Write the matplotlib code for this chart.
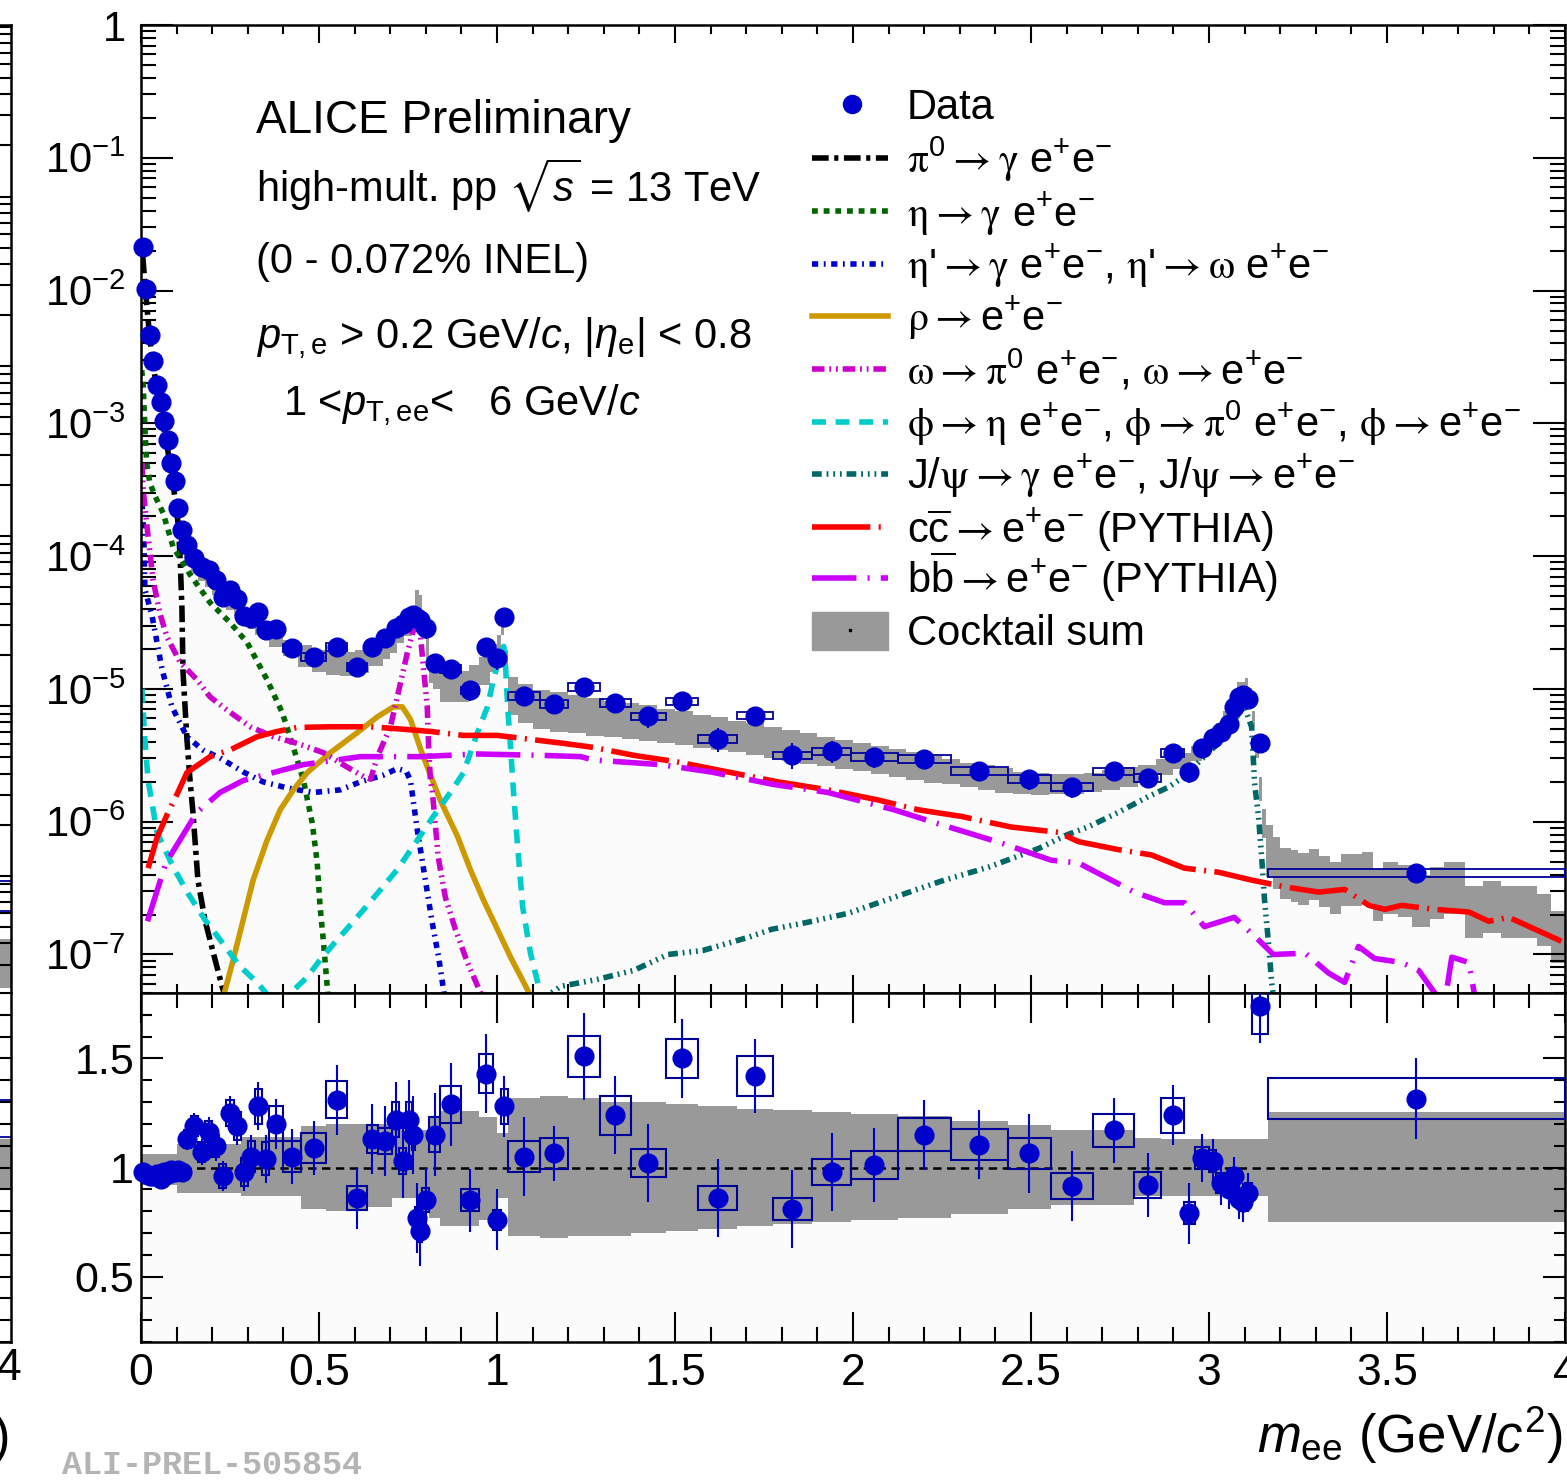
import numpy as np
import matplotlib
matplotlib.use("Agg")
import matplotlib.pyplot as plt
from matplotlib.patches import Rectangle
from matplotlib.lines import Line2D
from matplotlib.ticker import (FixedLocator, FixedFormatter, MultipleLocator,
                               LogLocator, NullFormatter, FuncFormatter)

plt.rcParams["font.family"] = ["Liberation Sans", "DejaVu Sans"]
plt.rcParams["mathtext.fontset"] = "custom"
plt.rcParams["mathtext.rm"] = "Liberation Sans"
plt.rcParams["mathtext.sf"] = "Liberation Sans"
plt.rcParams["mathtext.it"] = "Liberation Sans:italic"
plt.rcParams["mathtext.bf"] = "Liberation Sans:bold"
plt.rcParams["mathtext.cal"] = "STIXGeneral"   # serif Greek and arrows, like ROOT's Symbol font
plt.rcParams["mathtext.fallback"] = "stix"
plt.rcParams["lines.scale_dashes"] = False
plt.rcParams["axes.linewidth"] = 1.8

# ---------------- data ----------------
# data bins (contiguous), points sit at bin centres
data_edges = [0.00, 0.01, 0.02, 0.03, 0.04, 0.05, 0.06, 0.07, 0.08, 0.09, 0.10, 0.11, 0.12,
              0.14, 0.16, 0.18, 0.20, 0.22, 0.24, 0.26, 0.28, 0.30, 0.32, 0.34, 0.36,
              0.40, 0.45, 0.52, 0.58, 0.635, 0.665, 0.705, 0.725, 0.745, 0.76,
              0.77, 0.78, 0.79, 0.81, 0.84, 0.90, 0.95, 0.99, 1.01, 1.03,
              1.12, 1.20, 1.29, 1.375, 1.475, 1.565, 1.675, 1.775, 1.885, 1.995,
              2.125, 2.275, 2.435, 2.555, 2.675, 2.79, 2.865, 2.93, 2.96, 3.00,
              3.02, 3.05, 3.06, 3.08, 3.09, 3.10, 3.12, 3.165, 4.0]
data_y = [2.13e-2, 1.03e-2, 4.63e-3, 2.95e-3, 1.95e-3, 1.45e-3, 1.04e-3, 7.5e-4, 5.0e-4, 3.7e-4, 2.3e-4, 1.57e-4,
          1.21e-4, 9.7e-5, 8.3e-5, 7.9e-5, 6.6e-5, 4.95e-5, 5.6e-5, 4.75e-5, 3.55e-5, 3.4e-5, 3.8e-5, 2.8e-5,
          2.83e-5, 2.04e-5, 1.74e-5, 2.07e-5,
          1.47e-5, 2.07e-5, 2.4e-5, 2.9e-5, 3.1e-5, 3.5e-5, 3.6e-5, 3.4e-5, 3.3e-5, 2.9e-5,
          1.58e-5, 1.41e-5, 9.8e-6, 2.07e-5, 1.7e-5, 3.5e-5,
          8.9e-6, 7.7e-6, 1.035e-5, 7.85e-6, 6.2e-6, 8.1e-6, 4.2e-6, 6.3e-6, 3.18e-6, 3.4e-6,
          3.07e-6, 2.97e-6, 2.41e-6, 2.1e-6,
          1.83e-6, 2.4e-6, 2.14e-6, 3.3e-6, 2.37e-6, 3.6e-6,
          4.27e-6, 4.7e-6, 5.4e-6, 7.3e-6, 8.7e-6, 9.0e-6, 8.4e-6,
          3.9e-6, 4.1e-7]
ratio = [0.98, 0.97, 0.96, 0.96, 0.97, 0.945, 0.98, 0.97, 0.99, 0.98, 0.99, 0.98,
         1.13, 1.19, 1.07, 1.165, 1.10, 0.96, 1.25, 1.19, 0.98, 1.05, 1.28, 1.04,
         1.20, 1.05, 1.09, 1.31,
         0.86, 1.13, 1.12, 1.22, 1.03, 1.22, 1.15, 0.77, 0.71, 0.85,
         1.15, 1.29, 0.85, 1.43, 0.76, 1.28,
         1.05, 1.065, 1.51, 1.24, 1.02, 1.50, 0.86, 1.42, 0.81, 0.98, 1.01, 1.15, 1.105, 1.065,
         0.915, 1.17, 0.92, 1.24, 0.79, 1.045,
         1.03, 0.93, 0.90, 0.96, 0.855, 0.84, 0.885,
         1.74, 1.315]
ratio_stat = [0.02, 0.02, 0.025, 0.025, 0.03, 0.03, 0.03, 0.035, 0.035, 0.04, 0.04, 0.045,
              0.05, 0.06, 0.06, 0.065, 0.07, 0.07, 0.08, 0.085, 0.09, 0.10, 0.11, 0.11,
              0.115, 0.125, 0.125, 0.16,
              0.14, 0.16, 0.16, 0.17, 0.17, 0.18, 0.18, 0.16, 0.16, 0.15,
              0.19, 0.19, 0.145, 0.18, 0.14, 0.14,
              0.18, 0.125, 0.2, 0.18, 0.18, 0.18, 0.18, 0.17, 0.18, 0.18, 0.17, 0.16, 0.16, 0.18,
              0.16, 0.15, 0.145, 0.137, 0.14, 0.11,
              0.10, 0.10, 0.09, 0.09, 0.09, 0.09, 0.09,
              0.17, 0.185]
ratio_syst = [0.025, 0.025, 0.025, 0.025, 0.025, 0.025, 0.025, 0.025, 0.025, 0.025, 0.025, 0.025,
              0.04, 0.045, 0.045, 0.05, 0.05, 0.055, 0.06, 0.065, 0.065, 0.07, 0.08, 0.075,
              0.08, 0.07, 0.07, 0.085,
              0.055, 0.065, 0.06, 0.08, 0.06, 0.08, 0.07, 0.05, 0.05, 0.055,
              0.08, 0.085, 0.05, 0.09, 0.045, 0.08,
              0.07, 0.07, 0.095, 0.09, 0.065, 0.09, 0.055, 0.09, 0.05, 0.06, 0.065, 0.075, 0.07, 0.07,
              0.06, 0.075, 0.06, 0.08, 0.05, 0.05,
              0.05, 0.045, 0.04, 0.04, 0.04, 0.04, 0.045,
              0.13, 0.094]

# cocktail sum (fine histogram) and its relative uncertainty
cocktail_edges = [0.00, 0.01, 0.02, 0.03, 0.04, 0.05, 0.06, 0.07, 0.08, 0.09, 0.10, 0.11, 0.12,
                  0.14, 0.16, 0.18, 0.20, 0.22, 0.24, 0.26, 0.28, 0.30, 0.32, 0.34, 0.36,
                  0.40, 0.44, 0.48, 0.52, 0.56, 0.60, 0.64, 0.68,
                  0.70, 0.72, 0.74, 0.76,
                  0.77, 0.78, 0.79, 0.80, 0.81, 0.82,
                  0.84, 0.88, 0.92, 0.95, 0.98, 1.00,
                  1.01, 1.02, 1.03, 1.06,
                  1.10, 1.15, 1.20, 1.25, 1.30, 1.35, 1.40, 1.45, 1.50, 1.55, 1.60, 1.65, 1.70,
                  1.75, 1.80, 1.85, 1.90, 1.95, 2.00, 2.05, 2.10, 2.15, 2.20, 2.25, 2.30, 2.35,
                  2.40, 2.45, 2.50, 2.55, 2.60, 2.65, 2.70, 2.75, 2.80, 2.85, 2.90, 2.95,
                  2.98, 3.00, 3.02, 3.04, 3.06, 3.08, 3.10,
                  3.11, 3.12, 3.13, 3.14, 3.15, 3.16,
                  3.18, 3.20, 3.23, 3.25, 3.28, 3.31, 3.34, 3.37, 3.40, 3.43, 3.46, 3.49,
                  3.53, 3.57, 3.62, 3.66, 3.72, 3.77, 3.82, 3.87, 3.92, 3.96, 4.00]
cocktail_sum = [2.0e-2, 9.5e-3, 4.7e-3, 3.0e-3, 2.0e-3, 1.45e-3, 1.05e-3, 7.5e-4, 5.1e-4, 3.6e-4, 2.35e-4, 1.55e-4,
                1.1e-4, 8.4e-5, 7.4e-5, 6.6e-5, 5.8e-5, 5.1e-5, 4.5e-5, 4.0e-5, 3.6e-5, 3.25e-5, 2.95e-5, 2.7e-5,
                2.4e-5, 2.05e-5, 1.8e-5, 1.65e-5, 1.58e-5, 1.57e-5, 1.65e-5, 1.85e-5,
                2.1e-5, 2.35e-5, 2.65e-5, 3.0e-5,
                3.6e-5, 4.8e-5, 4.4e-5, 3.2e-5, 2.0e-5, 1.45e-5,
                1.3e-5, 1.08e-5, 1.08e-5, 1.2e-5, 1.4e-5, 1.75e-5,
                2.2e-5, 3.0e-5, 1.7e-5, 9.3e-6,
                8.2e-6, 7.4e-6, 7.1e-6, 6.8e-6, 6.5e-6, 6.2e-6, 6.0e-6, 5.8e-6, 5.5e-6, 5.3e-6, 5.0e-6, 4.8e-6,
                4.55e-6, 4.35e-6, 4.1e-6, 3.9e-6, 3.7e-6, 3.5e-6, 3.3e-6, 3.15e-6, 3.0e-6, 2.85e-6, 2.7e-6,
                2.55e-6, 2.45e-6, 2.3e-6, 2.2e-6, 2.1e-6, 2.0e-6, 1.95e-6, 1.95e-6, 1.95e-6, 2.0e-6, 2.1e-6,
                2.2e-6, 2.35e-6, 2.6e-6, 2.9e-6,
                3.3e-6, 3.7e-6, 4.1e-6, 4.9e-6, 6.0e-6, 7.6e-6, 1.0e-5,
                1.07e-5, 9.0e-6, 6.0e-6, 3.5e-6, 1.8e-6, 1.0e-6,
                6.6e-7, 5.4e-7, 4.5e-7, 4.3e-7, 4.1e-7, 4.4e-7, 3.9e-7, 3.5e-7, 4.0e-7, 4.0e-7, 4.2e-7, 3.1e-7,
                3.5e-7, 3.3e-7, 2.8e-7, 3.2e-7, 3.5e-7, 2.3e-7, 2.5e-7, 2.3e-7, 2.3e-7, 2.0e-7, 1.5e-7]
cocktail_err = ([0.07] * 10 + [0.12] * 10 + [0.135] * 6 + [0.19] * 2 + [0.2] * 6 + [0.16] * 6
                + [0.23] * 3 + [0.265] * 3 + [0.235] * 2 + [0.15] * 3
                + [0.32, 0.32, 0.32, 0.33, 0.32, 0.32, 0.30, 0.30, 0.30, 0.29, 0.29, 0.28, 0.28,
                   0.27, 0.27, 0.26, 0.26, 0.26, 0.25, 0.25, 0.24, 0.24, 0.24, 0.23, 0.23, 0.22,
                   0.21, 0.21, 0.21, 0.19, 0.19, 0.17, 0.17, 0.17, 0.17, 0.17]
                + [0.135] * 14 + [0.2, 0.25] + [0.42] * 23)

# cocktail uncertainty band in the ratio panel
ratio_band_edges = [0.0, 0.10, 0.28, 0.45, 0.52, 0.635, 0.705, 0.81, 0.84, 0.95, 1.0, 1.03, 1.12,
                    1.20, 1.29, 1.375, 1.475, 1.565, 1.675, 1.775, 1.885, 1.995, 2.125, 2.275,
                    2.435, 2.555, 2.79, 2.865, 3.165, 4.0]
ratio_band_lo = [0.92, 0.885, 0.87, 0.81, 0.80, 0.82, 0.86, 0.77, 0.73, 0.76, 0.86, 0.685, 0.675,
                 0.685, 0.685, 0.70, 0.71, 0.72, 0.73, 0.74, 0.75, 0.76, 0.77, 0.785, 0.81, 0.83,
                 0.87, 0.87, 0.75]
ratio_band_hi = [1.06, 1.11, 1.14, 1.19, 1.20, 1.20, 1.17, 1.23, 1.26, 1.23, 1.16, 1.32, 1.33,
                 1.32, 1.30, 1.30, 1.29, 1.28, 1.27, 1.265, 1.255, 1.245, 1.235, 1.215, 1.195,
                 1.17, 1.135, 1.13, 1.255]

# cocktail components
pi0_x = [0.005, 0.015, 0.025, 0.035, 0.045, 0.055, 0.065, 0.075, 0.085, 0.095, 0.105, 0.110,
         0.115, 0.118, 0.129, 0.138, 0.146, 0.160, 0.180, 0.203, 0.228, 0.24]
pi0_y = [1.8e-2, 8.5e-3, 4.3e-3, 2.7e-3, 1.75e-3, 1.25e-3, 8.8e-4, 6.3e-4, 4.3e-4, 2.8e-4, 1.7e-4,
         9.5e-5, 4.0e-5, 1.35e-5, 4.2e-6, 2.0e-6, 1.17e-6, 3.6e-7, 1.8e-7, 1.03e-7, 5.7e-8, 4.5e-8]
eta_x = [0.002, 0.006, 0.012, 0.016, 0.025, 0.04, 0.062, 0.09, 0.138, 0.194, 0.25, 0.298, 0.354,
         0.397, 0.428, 0.456, 0.481, 0.495, 0.503, 0.512, 0.523, 0.53]
eta_log = [-2.6, -2.7, -3.1, -3.3, -3.45, -3.55, -3.675, -3.93, -4.14, -4.35, -4.5, -4.65, -4.93,
           -5.18, -5.44, -5.685, -6.01, -6.31, -6.64, -6.89, -7.24, -7.45]
etap_x = [0.003, 0.008, 0.011, 0.031, 0.059, 0.087, 0.129, 0.174, 0.222, 0.287, 0.343, 0.41, 0.484,
          0.56, 0.616, 0.68, 0.72, 0.745, 0.757, 0.776, 0.8, 0.818, 0.836, 0.85, 0.86]
etap_log = [-3.6, -3.86, -4.25, -4.45, -4.85, -5.135, -5.36, -5.46, -5.52, -5.625, -5.7, -5.745,
            -5.78, -5.76, -5.70, -5.65, -5.6, -5.62, -5.69, -6.06, -6.46, -6.76, -7.02, -7.27, -7.45]
rho_x = [0.236, 0.259, 0.287, 0.315, 0.354, 0.391, 0.428, 0.467, 0.532, 0.607, 0.664, 0.709, 0.734,
         0.757, 0.785, 0.813, 0.841, 0.889, 0.925, 0.962, 1.001, 1.038, 1.075, 1.09]
rho_log = [-7.27, -7.04, -6.74, -6.44, -6.14, -5.91, -5.76, -5.63, -5.48, -5.33, -5.21, -5.135, -5.135,
           -5.23, -5.45, -5.65, -5.84, -6.11, -6.36, -6.59, -6.81, -7.02, -7.21, -7.29]
omega_x = [0.003, 0.006, 0.02, 0.034, 0.053, 0.073, 0.11, 0.157, 0.194, 0.242, 0.307, 0.371, 0.439,
           0.512, 0.58, 0.625, 0.645, 0.664, 0.70, 0.72, 0.748, 0.765, 0.776, 0.785, 0.793, 0.804,
           0.808, 0.813, 0.818, 0.835, 0.855, 0.883, 0.917, 0.954, 0.97]
omega_log = [-3.3, -3.5, -3.855, -4.18, -4.43, -4.61, -4.80, -4.93, -5.06, -5.16, -5.285, -5.36, -5.41,
             -5.48, -5.59, -5.66, -5.68, -5.51, -5.29, -5.06, -4.73, -4.56, -4.52, -4.6, -4.83, -5.13,
             -5.44, -5.69, -5.76, -6.27, -6.57, -6.81, -7.06, -7.29, -7.4]
phi_x = [0.003, 0.01, 0.02, 0.045, 0.09, 0.132, 0.18, 0.228, 0.278, 0.326, 0.36, 0.39, 0.428, 0.467,
         0.503, 0.551, 0.607, 0.664, 0.72, 0.776, 0.821, 0.869, 0.906, 0.945, 0.973, 0.99, 1.01, 1.019,
         1.024, 1.03, 1.038, 1.046, 1.058, 1.072, 1.094, 1.117, 1.125]
phi_log = [-5.0, -5.35, -5.69, -6.08, -6.34, -6.54, -6.74, -6.91, -7.09, -7.21, -7.32, -7.36, -7.27,
           -7.17, -7.04, -6.89, -6.72, -6.54, -6.36, -6.14, -5.96, -5.78, -5.63, -5.33, -5.135, -4.93,
           -4.73, -4.68, -4.83, -5.135, -5.44, -5.76, -6.19, -6.64, -6.99, -7.24, -7.35]
jpsi_x = [1.12, 1.179, 1.278, 1.384, 1.48, 1.578, 1.707, 1.772, 1.868, 1.986, 2.115, 2.245, 2.383,
          2.523, 2.6, 2.66, 2.745, 2.83, 2.886, 2.93, 2.987, 3.026, 3.06, 3.09, 3.1, 3.12, 3.128,
          3.139, 3.148, 3.156, 3.167, 3.176, 3.185]
jpsi_log = [-7.35, -7.24, -7.19, -7.12, -7.0, -6.97, -6.87, -6.81, -6.76, -6.69, -6.57, -6.45, -6.34,
            -6.2, -6.1, -6.04, -5.93, -5.81, -5.74, -5.66, -5.51, -5.41, -5.28, -5.16, -5.135, -5.29,
            -5.71, -5.96, -6.27, -6.59, -6.91, -7.21, -7.4]
cc_x = [0.02, 0.045, 0.076, 0.1, 0.129, 0.194, 0.25, 0.326, 0.383, 0.439, 0.532, 0.644, 0.72, 0.813,
        0.906, 1.001, 1.094, 1.187, 1.27, 1.384, 1.507, 1.648, 1.789, 1.93, 2.07, 2.183, 2.304, 2.444,
        2.577, 2.633, 2.745, 2.838, 2.931, 3.026, 3.12, 3.212, 3.308, 3.381, 3.449, 3.494, 3.541,
        3.634, 3.73, 3.786, 3.842, 3.916, 3.99]
cc_log = [-6.35, -6.12, -5.93, -5.80, -5.63, -5.51, -5.46, -5.36, -5.32, -5.29, -5.285, -5.285, -5.30,
          -5.32, -5.35, -5.35, -5.38, -5.41, -5.44, -5.50, -5.55, -5.625, -5.70, -5.76, -5.836, -5.91,
          -5.96, -6.04, -6.08, -6.15, -6.21, -6.25, -6.35, -6.38, -6.44, -6.49, -6.53, -6.51, -6.63,
          -6.66, -6.63, -6.66, -6.68, -6.75, -6.72, -6.81, -6.9]
bb_x = [0.018, 0.07, 0.157, 0.222, 0.287, 0.456, 0.616, 0.785, 0.945, 1.122, 1.235, 1.27, 1.46, 1.6,
        1.778, 1.93, 2.115, 2.245, 2.416, 2.557, 2.633, 2.79, 2.875, 2.931, 2.987, 3.071, 3.139, 3.181,
        3.27, 3.336, 3.381, 3.42, 3.465, 3.541, 3.589, 3.634, 3.66, 3.682, 3.73, 3.745, 3.8, 3.9, 3.93,
        3.96]
bb_log = [-6.75, -6.31, -5.93, -5.78, -5.69, -5.57, -5.51, -5.51, -5.49, -5.5, -5.51, -5.535, -5.57,
          -5.625, -5.72, -5.78, -5.91, -6.02, -6.16, -6.29, -6.31, -6.53, -6.61, -6.61, -6.79, -6.72,
          -6.89, -7.0, -6.99, -7.14, -7.21, -6.94, -7.03, -7.06, -7.12, -7.29, -7.4, -7.02, -7.06,
          -7.29, -7.6, -7.6, -7.27, -7.6]

ytick_vals = [1e-7, 1e-6, 1e-5, 1e-4, 1e-3, 1e-2, 1e-1, 1]
ytick_labels = [r"$10^{-7}$", r"$10^{-6}$", r"$10^{-5}$", r"$10^{-4}$", r"$10^{-3}$",
                r"$10^{-2}$", r"$10^{-1}$", "1"]

BLUE = "#0000cc"
BOX = "#000099"
GRAY = "#999999"

# line styles of the cocktail components (colour, dash pattern)
styles = {
    "pi0": ("black", (0, (12, 4, 3, 4))),
    "eta": ("#006600", (0, (4.2, 4.2))),
    "etap": ("#0000cc", (0, (4.5, 4, 1.3, 4))),
    "rho": ("#cc9900", "-"),
    "omega": ("#cc00cc", (0, (9, 3.5, 1.3, 3.5, 1.3, 3.5))),
    "phi": ("#00cccc", (0, (10, 7))),
    "jpsi": ("#006666", (0, (7, 3.5, 1.3, 3.5, 1.3, 3.5, 1.3, 3.5))),
    "cc": ("#ff0000", (0, (42, 6, 1.5, 6))),
    "bb": ("#cc00ff", (0, (32, 8, 1.5, 8))),
}
LW = 4.0

W, H = 1567, 1482
fig = plt.figure(figsize=(W / 100, H / 100), dpi=100)


def px_box(x0, y0, x1, y1):
    return [x0 / W, 1 - y1 / H, (x1 - x0) / W, (y1 - y0) / H]


def steps(edges, vals):
    xs = np.repeat(np.asarray(edges, float), 2)[1:-1]
    ys = np.repeat(np.asarray(vals, float), 2)
    return xs, ys


ax = fig.add_axes(px_box(141, 25, 1565, 993))
axr = fig.add_axes(px_box(141, 993, 1565, 1342))

# ---------------- top panel ----------------
c_sum = np.array(cocktail_sum)
c_err = np.array(cocktail_err)
xs, c_lo = steps(cocktail_edges, c_sum * (1 - c_err))
_, c_hi = steps(cocktail_edges, c_sum * (1 + c_err))
ax.fill_between(xs, 1e-10, c_lo, color="#fbfbfb", lw=0, zorder=0)
ax.fill_between(xs, c_lo, c_hi, color=GRAY, lw=0, zorder=1)

curves = [
    ("pi0", pi0_x, np.array(pi0_y)),
    ("eta", eta_x, 10 ** np.array(eta_log)),
    ("etap", etap_x, 10 ** np.array(etap_log)),
    ("rho", rho_x, 10 ** np.array(rho_log)),
    ("omega", omega_x, 10 ** np.array(omega_log)),
    ("phi", phi_x, 10 ** np.array(phi_log)),
    ("jpsi", jpsi_x, 10 ** np.array(jpsi_log)),
    ("cc", cc_x, 10 ** np.array(cc_log)),
    ("bb", bb_x, 10 ** np.array(bb_log)),
]
for key, cx, cy in curves:
    col, ls = styles[key]
    ax.plot(cx, cy, color=col, ls=ls, lw=LW, zorder=2)

d_edges = np.array(data_edges)
d_x = 0.5 * (d_edges[:-1] + d_edges[1:])
d_y = np.array(data_y)
r = np.array(ratio)
r_st = np.array(ratio_stat)
r_sy = np.array(ratio_syst)
rel_st = r_st / r
rel_sy = r_sy / r

for lo_e, hi_e, y, s in zip(d_edges[:-1], d_edges[1:], d_y, rel_sy):
    ax.add_patch(Rectangle((lo_e, y * (1 - s)), hi_e - lo_e, 2 * y * s,
                           fill=False, ec=BOX, lw=1.3, zorder=4))
ax.vlines(d_x, d_y * (1 - rel_st), d_y * (1 + rel_st), color=BLUE, lw=1.5, zorder=5)
ax.plot(d_x, d_y, "o", ms=13.5, color=BLUE, mec=BLUE, zorder=6, clip_on=False)

ax.set_xlim(0, 4)
ax.set_yscale("log")
ax.set_ylim(10 ** -7.29, 1)
ax.xaxis.set_major_locator(MultipleLocator(0.5))
ax.xaxis.set_minor_locator(MultipleLocator(0.1))
ax.yaxis.set_major_locator(FixedLocator(ytick_vals))
ax.yaxis.set_major_formatter(FixedFormatter(ytick_labels))
ax.yaxis.set_minor_locator(LogLocator(base=10, subs=np.arange(2, 10), numticks=100))
ax.yaxis.set_minor_formatter(NullFormatter())
ax.tick_params(which="both", direction="in", top=True, right=True, labelbottom=False, width=1.5)
ax.tick_params(axis="x", which="major", length=13)
ax.tick_params(axis="x", which="minor", length=6.5)
ax.tick_params(axis="y", which="major", length=23, labelsize=30, pad=11)
ax.tick_params(axis="y", which="minor", length=11)

# ---------------- ratio panel ----------------
rxs, rlo = steps(ratio_band_edges, ratio_band_lo)
_, rhi = steps(ratio_band_edges, ratio_band_hi)
axr.fill_between(rxs, 0, rlo, color="#fbfbfb", lw=0, zorder=0)
axr.fill_between(rxs, rlo, rhi, color=GRAY, lw=0, zorder=1)
axr.axhline(1, color="black", lw=1.8, ls=(0, (6, 4)), zorder=3)
for lo_e, hi_e, v, s in zip(d_edges[:-1], d_edges[1:], r, r_sy):
    axr.add_patch(Rectangle((lo_e, v - s), hi_e - lo_e, 2 * s,
                            fill=False, ec=BOX, lw=1.5, zorder=4))
axr.vlines(d_x, r - r_st, r + r_st, color=BLUE, lw=1.5, zorder=5)
axr.plot(d_x, r, "o", ms=13.5, color=BLUE, mec=BLUE, zorder=6, clip_on=False)

axr.set_xlim(0, 4)
axr.set_ylim(0.2, 1.8)
fmt = FuncFormatter(lambda v, p: f"{v:g}")
axr.xaxis.set_major_locator(MultipleLocator(0.5))
axr.xaxis.set_minor_locator(MultipleLocator(0.1))
axr.yaxis.set_major_locator(MultipleLocator(0.5))
axr.yaxis.set_minor_locator(MultipleLocator(0.1))
axr.xaxis.set_major_formatter(fmt)
axr.yaxis.set_major_formatter(fmt)
axr.tick_params(which="both", direction="in", top=True, right=True, width=1.5)
axr.tick_params(axis="x", which="major", length=21.5, labelsize=32, pad=8)
axr.tick_params(axis="x", which="minor", length=10.8)
axr.tick_params(axis="y", which="major", length=16, labelsize=31, pad=5)
axr.tick_params(axis="y", which="minor", length=8)

# ---------------- sliver of the neighbouring panel on the left ----------------
gt = fig.add_axes(px_box(-160, 25, 11, 993))
gt.set_yscale("log")
gt.set_ylim(10 ** -5.69, 10 ** 0.01)
gt.set_xlim(0, 1)
gt.fill_between([0.9, 1.0], 10 ** -5.66, 10 ** -5.37, color=GRAY, lw=0)
gt.hlines([10 ** -5.03, 10 ** -5.21], 0.9, 1.0, color=BOX, lw=1.3)
gb = fig.add_axes(px_box(-160, 993, 11, 1342))
gb.set_ylim(0.2, 1.8)
gb.set_xlim(0, 1)
gb.fill_between([0.9, 1.0], 0.9, 1.13, color=GRAY, lw=0)
gb.hlines([1.31, 1.14], 0.9, 1.0, color=BOX, lw=1.3)
gb.yaxis.set_major_locator(MultipleLocator(0.5))
gb.yaxis.set_minor_locator(MultipleLocator(0.1))
for g in (gt, gb):
    g.spines["left"].set_visible(False)
    g.spines["top"].set_visible(g is gt)
    g.spines["bottom"].set_visible(g is gb)
    g.tick_params(which="both", direction="in", left=False, right=True, bottom=False,
                  labelleft=False, labelbottom=False, width=1.5)
gt.tick_params(which="major", length=23)
gt.tick_params(which="minor", length=11)
gb.tick_params(which="major", length=16)
gb.tick_params(which="minor", length=8)
fig.text(22 / W, 1 - 1368 / H, "4", ha="right", va="center", fontsize=32)
fig.text(10 / W, 1 - 1453 / H, ")", ha="right", va="baseline", fontsize=38)

# ---------------- texts ----------------
fig.text(1563 / W, 1 - 1453 / H, r"$m_{\mathrm{ee}}$ (GeV/$c^{2}$)", ha="right",
         va="baseline", fontsize=38)
fig.text(62 / W, 1 - 1466 / H, "ALI-PREL-505854", ha="left", va="center", fontsize=24,
         family="Liberation Mono", weight="bold", color="#b4b4b4")

fig.text(256 / W, 1 - 133 / H, "ALICE Preliminary", fontsize=33, va="baseline")
fig.text(256 / W, 1 - 202 / H, r"high-mult. pp $\sqrt{s}$ = 13 TeV", fontsize=30, va="baseline")
fig.text(256 / W, 1 - 273 / H, "(0 - 0.072% INEL)", fontsize=30, va="baseline")
fig.text(256 / W, 1 - 348 / H, r"$p_{\mathrm{T,e}}$ > 0.2 GeV/$c$, |$\eta_{\mathrm{e}}$| < 0.8",
         fontsize=30, va="baseline")
fig.text(283 / W, 1 - 415 / H, r"1 <$p_{\mathrm{T,ee}}$<   6 GeV/$c$", fontsize=30, va="baseline")

# legend
ee = r"e$^{+}$e$^{-}$"
arr = r"\mathcal{\rightarrow}"
leg_rows = [104, 158, 211, 264, 316, 369, 422, 474, 527, 578, 630]
leg_labels = [
    "Data",
    r"$\mathcal{\pi}^{0}" + arr + r"\mathcal{\gamma}$ " + ee,
    r"$\mathcal{\eta}" + arr + r"\mathcal{\gamma}$ " + ee,
    r"$\mathcal{\eta}$'$" + arr + r"\mathcal{\gamma}$ " + ee
    + r", $\mathcal{\eta}$'$" + arr + r"\mathcal{\omega}$ " + ee,
    r"$\mathcal{\rho}" + arr + "$" + ee,
    r"$\mathcal{\omega}" + arr + r"\mathcal{\pi}^{0}$ " + ee + r", $\mathcal{\omega}" + arr + "$" + ee,
    r"$\mathcal{\phi}" + arr + r"\mathcal{\eta}$ " + ee + r", $\mathcal{\phi}" + arr
    + r"\mathcal{\pi}^{0}$ " + ee + r", $\mathcal{\phi}" + arr + "$" + ee,
    r"J/$\mathcal{\psi}" + arr + r"\mathcal{\gamma}$ " + ee + r", J/$\mathcal{\psi}" + arr + "$" + ee,
    r"c$\overline{\mathrm{c}}" + arr + "$" + ee + " (PYTHIA)",
    r"b$\overline{\mathrm{b}}" + arr + "$" + ee + " (PYTHIA)",
    "Cocktail sum",
]
leg_keys = [None, "pi0", "eta", "etap", "rho", "omega", "phi", "jpsi", "cc", "bb", None]
for py, lab, key in zip(leg_rows, leg_labels, leg_keys):
    fy = 1 - py / H
    if key is not None:
        col, ls = styles[key]
        fig.add_artist(Line2D([812 / W, 888 / W], [fy, fy], color=col, ls=ls, lw=LW))
    fig.text(907 / W, 1 - (py + 15) / H, lab, fontsize=30, va="baseline")
fig.add_artist(Line2D([852 / W], [1 - 104 / H], marker="o", ms=13, color=BLUE, ls="none"))
fig.add_artist(Rectangle((812 / W, 1 - 650 / H), 76 / W, 38 / H, color=GRAY,
                         transform=fig.transFigure))
fig.add_artist(Line2D([850 / W], [1 - 630 / H], marker="s", ms=1.5, color="black", ls="none"))

fig.savefig("out.png", dpi=100)
